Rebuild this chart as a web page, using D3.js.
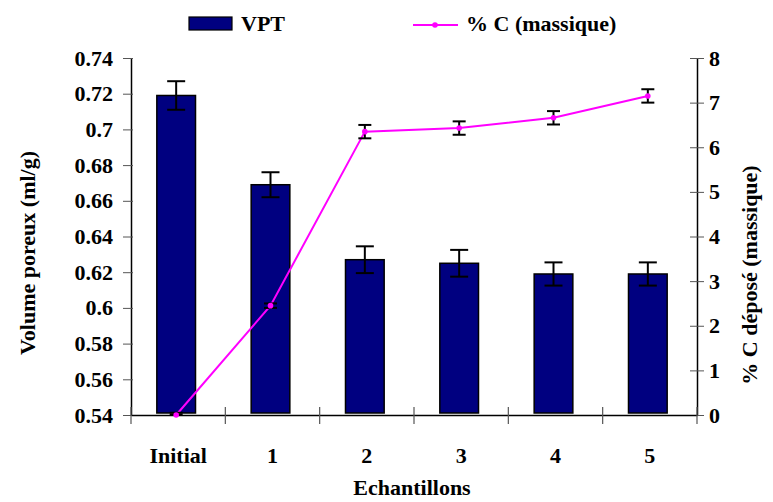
<!DOCTYPE html>
<html>
<head>
<meta charset="utf-8">
<script src="https://cdn.jsdelivr.net/npm/d3@7"></script>
<style>
  html, body { margin: 0; padding: 0; background: #fff; }
  svg { display: block; }
</style>
</head>
<body>
<svg id="chart" width="773" height="502"></svg>
<script>
const categories = ["Initial", "1", "2", "3", "4", "5"];
const vptValues = [0.719, 0.669, 0.627, 0.625, 0.619, 0.619];
const vptErrors = [0.008, 0.007, 0.0075, 0.0075, 0.0065, 0.0065];
const carbonValues = [0, 2.45, 6.35, 6.43, 6.66, 7.15];
const carbonErrors = [0.05, 0.05, 0.15, 0.15, 0.15, 0.15];
const leftTicks = [0.54, 0.56, 0.58, 0.6, 0.62, 0.64, 0.66, 0.68, 0.7, 0.72, 0.74];
const rightTicks = [0, 1, 2, 3, 4, 5, 6, 7, 8];
const seriesNames = ["VPT", "% C (massique)"];

const FONT = "'Liberation Serif', Tinos, 'Noto Serif', 'DejaVu Serif', FreeSerif, 'Times New Roman', Times, serif";
const svg = d3.select("#chart");
const m = { left: 131, right: 697, top: 58, bottom: 415 };
const shift = -2;

const x = d3.scaleBand().domain(categories).range([m.left, m.right]).paddingInner(0).paddingOuter(0);
const yL = d3.scaleLinear().domain([0.54, 0.74]).range([m.bottom, m.top]);
const yR = d3.scaleLinear().domain([0, 8]).range([m.bottom, m.top]);
const barW = x.bandwidth() * 0.41;
const cxOf = i => x(categories[i]) + x.bandwidth() / 2 + shift;

// Bars
svg.append("g").selectAll("rect").data(vptValues).join("rect")
  .attr("x", (d, i) => cxOf(i) - barW / 2)
  .attr("y", d => yL(d))
  .attr("width", barW)
  .attr("height", d => yL(0.54) - yL(d) - 2)
  .attr("fill", "#000080")
  .attr("stroke", "#000")
  .attr("stroke-width", 1.5);

// Bar error bars
const be = svg.append("g").attr("stroke", "#000").attr("stroke-width", 2);
vptValues.forEach((v, i) => {
  const cx = cxOf(i);
  const e = vptErrors[i];
  be.append("line").attr("x1", cx).attr("x2", cx).attr("y1", yL(v + e)).attr("y2", yL(v - e));
  be.append("line").attr("x1", cx - 9).attr("x2", cx + 9).attr("y1", yL(v + e)).attr("y2", yL(v + e));
  be.append("line").attr("x1", cx - 9).attr("x2", cx + 9).attr("y1", yL(v - e)).attr("y2", yL(v - e));
});

// Axes
const axL = svg.append("g").attr("transform", `translate(${m.left},0)`)
  .call(d3.axisLeft(yL).tickValues(leftTicks).tickFormat(d3.format("")).tickSizeOuter(0).tickSizeInner(8).tickPadding(10));
const axR = svg.append("g").attr("transform", `translate(${m.right},0)`)
  .call(d3.axisRight(yR).tickValues(rightTicks).tickFormat(d3.format("d")).tickSizeOuter(0).tickSizeInner(7).tickPadding(5));
const axB = svg.append("g").attr("transform", `translate(0,${m.bottom})`)
  .call(d3.axisBottom(x).tickSize(0).tickPadding(32));

[axL, axR, axB].forEach(g => {
  g.attr("font-family", FONT).attr("font-size", 22);
  g.select(".domain").attr("stroke", "#000").attr("stroke-width", 1.5);
  g.selectAll(".tick text").style("font-family", FONT).style("font-weight", "bold").style("font-size", "22px").attr("fill", "#000");
});
axL.selectAll(".tick line").attr("stroke", "#555").attr("x2", 2).attr("x1", -8);
axR.selectAll(".tick line").attr("stroke", "#555").attr("x1", -7).attr("x2", 7);

// x boundary ticks crossing the axis
const bounds = categories.map(c => x(c)).concat([m.right]);
svg.append("g").selectAll("line").data(bounds).join("line")
  .attr("x1", d => d).attr("x2", d => d)
  .attr("y1", m.bottom - 8).attr("y2", m.bottom + 9)
  .attr("stroke", "#555").attr("stroke-width", 1.2);

// Line series
const line = d3.line().x((d, i) => cxOf(i)).y(d => yR(d));
svg.append("path").datum(carbonValues).attr("d", line)
  .attr("fill", "none").attr("stroke", "#FF00FF").attr("stroke-width", 2);

const le = svg.append("g").attr("stroke", "#000").attr("stroke-width", 2);
carbonValues.forEach((v, i) => {
  const cx = cxOf(i);
  const e = carbonErrors[i];
  le.append("line").attr("x1", cx).attr("x2", cx).attr("y1", yR(v + e)).attr("y2", yR(Math.max(0, v - e)));
  le.append("line").attr("x1", cx - 6.5).attr("x2", cx + 6.5).attr("y1", yR(v + e)).attr("y2", yR(v + e));
  le.append("line").attr("x1", cx - 6.5).attr("x2", cx + 6.5).attr("y1", yR(Math.max(0, v - e))).attr("y2", yR(Math.max(0, v - e)));
});
svg.append("g").selectAll("circle").data(carbonValues).join("circle")
  .attr("cx", (d, i) => cxOf(i)).attr("cy", d => yR(d)).attr("r", 2.8)
  .attr("fill", "#FF00FF");

function label(sel) {
  return sel.style("font-family", FONT).style("font-weight", "bold").style("font-size", "22px").attr("fill", "#000");
}
// Axis titles
label(svg.append("text").attr("transform", `translate(35,253) rotate(-90)`)
  .attr("text-anchor", "middle")).text("Volume poreux (ml/g)");
label(svg.append("text").attr("transform", `translate(757,275) rotate(-90)`)
  .attr("text-anchor", "middle")).text("% C déposé (massique)");
label(svg.append("text").attr("x", 412).attr("y", 495)
  .attr("text-anchor", "middle")).text("Echantillons");

// Legend
const lg = svg.append("g");
lg.append("rect").attr("x", 189).attr("y", 17).attr("width", 43).attr("height", 13)
  .attr("fill", "#000080").attr("stroke", "#000").attr("stroke-width", 1.2);
label(lg.append("text").attr("x", 241).attr("y", 31)).text(seriesNames[0]);
lg.append("line").attr("x1", 413).attr("x2", 458).attr("y1", 25).attr("y2", 25)
  .attr("stroke", "#FF00FF").attr("stroke-width", 2);
lg.append("circle").attr("cx", 435).attr("cy", 25).attr("r", 2.8).attr("fill", "#FF00FF");
label(lg.append("text").attr("x", 466).attr("y", 31)).text(seriesNames[1]);
</script>
</body>
</html>
